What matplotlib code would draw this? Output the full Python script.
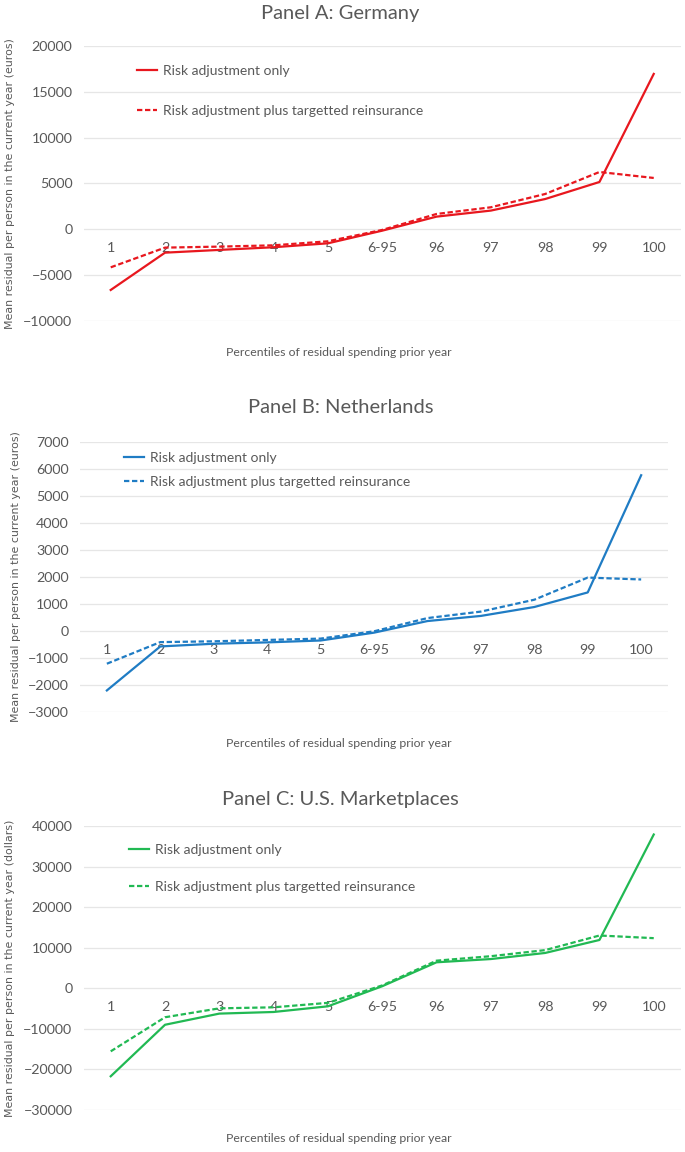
import matplotlib
matplotlib.use("Agg")
import matplotlib.pyplot as plt

categories = ['1', '2', '3', '4', '5', '6-95', '96', '97', '98', '99', '100']

germany_ra = [-6620, -2550, -2250, -1960, -1530, -150, 1380, 2040, 3300, 5160, 16950]
germany_re = [-4150, -2000, -1890, -1750, -1310, -70, 1670, 2400, 3850, 6250, 5600]

nl_ra = [-2200, -570, -470, -420, -350, -60, 370, 560, 890, 1430, 5770]
nl_re = [-1210, -410, -380, -330, -280, -10, 480, 720, 1160, 1980, 1910]

us_ra = [-21700, -9000, -6250, -5850, -4450, 500, 6400, 7200, 8700, 11900, 37900]
us_re = [-15550, -7150, -4950, -4700, -3600, 700, 6800, 7900, 9400, 13000, 12350]

label_ra = 'Risk adjustment only'
label_re = 'Risk adjustment plus targetted reinsurance'

GREY = '#595959'
GRID = '#E6E6E6'
FONT = 'Lato'

panels = [
    dict(title='Panel A: Germany', ra=germany_ra, re=germany_re, color='#E8171E',
         ylim=(-10000, 20000), step=5000, unit='euros',
         rect=[0.122, 0.7214, 0.872, 0.2387], leg=(0.078, 0.955), spacing=2.0,
         title_y=0.9887, xlab_y=0.694, ylab_x=0.015),
    dict(title='Panel B: Netherlands', ra=nl_ra, re=nl_re, color='#1F7CC4',
         ylim=(-3000, 7000), step=1000, unit='euros',
         rect=[0.117, 0.3819, 0.858, 0.2344], leg=(0.062, 0.99), spacing=0.9,
         title_y=0.6467, xlab_y=0.355, ylab_x=0.023),
    dict(title='Panel C: U.S. Marketplaces', ra=us_ra, re=us_re, color='#21B953',
         ylim=(-30000, 40000), step=10000, unit='dollars',
         rect=[0.122, 0.0365, 0.872, 0.2465], leg=(0.064, 0.96), spacing=1.75,
         title_y=0.3064, xlab_y=0.0113, ylab_x=0.015),
]

fig = plt.figure(figsize=(6.85, 11.52), dpi=100)

for p in panels:
    ax = fig.add_axes(p['rect'])
    x = range(len(categories))
    ax.plot(x, p['ra'], color=p['color'], lw=1.6, label=label_ra)
    ax.plot(x, p['re'], color=p['color'], lw=1.6, ls=(0, (2.4, 1.2)), label=label_re)

    lo, hi = p['ylim']
    ax.set_ylim(lo, hi)
    ax.set_xlim(-0.5, len(categories) - 0.5)
    ax.set_yticks(range(lo, hi + 1, p['step']))
    ax.yaxis.grid(True, color=GRID, lw=0.9)
    ax.set_axisbelow(True)

    ax.set_xticks(list(x))
    ax.set_xticklabels(categories)
    for side in ['top', 'right', 'left']:
        ax.spines[side].set_visible(False)
    ax.spines['bottom'].set_position(('data', 0))
    ax.spines['bottom'].set_visible(False)
    ax.tick_params(axis='x', length=0, pad=9, labelsize=10.3, labelcolor=GREY)
    ax.tick_params(axis='y', length=0, pad=8, labelsize=10.3, labelcolor=GREY)
    for t in ax.get_xticklabels() + ax.get_yticklabels():
        t.set_fontfamily(FONT)

    leg = ax.legend(loc='upper left', bbox_to_anchor=p['leg'], frameon=False,
                    labelspacing=p['spacing'], handlelength=1.45, handletextpad=0.45,
                    borderpad=0, prop={'family': FONT, 'size': 10})
    for t in leg.get_texts():
        t.set_color(GREY)

    fig.text(0.497, p['title_y'], p['title'], ha='center', va='center',
             fontsize=14.5, color=GREY, family=FONT)
    fig.text(0.495, p['xlab_y'], 'Percentiles of residual spending prior year',
             ha='center', va='center', fontsize=8.8, color=GREY, family=FONT)
    r = p['rect']
    fig.text(p['ylab_x'], r[1] + r[3] / 2,
             'Mean residual per person in the current year (%s)' % p['unit'],
             rotation=90, ha='center', va='center', fontsize=7.9, color=GREY,
             family='DejaVu Sans')

fig.savefig('out.png', dpi=100, facecolor='white')
